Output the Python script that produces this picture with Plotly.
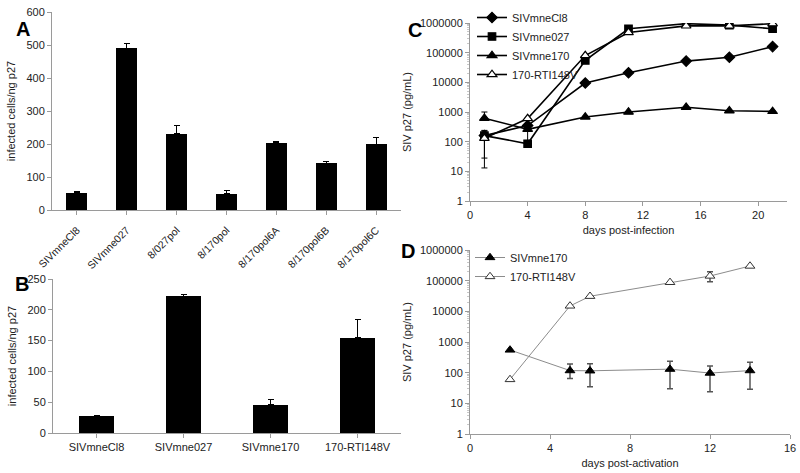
import plotly.graph_objects as go

# ---------------- data ----------------
A_cats = ["SIVmneCl8", "SIVmne027", "8/027pol", "8/170pol", "8/170pol6A", "8/170pol6B", "8/170pol6C"]
A_vals = [52, 490, 231, 50, 204, 141, 199]
A_err = [3, 15, 25, 8, 4, 5, 22]

B_cats = ["SIVmneCl8", "SIVmne027", "SIVmne170", "170-RTI148V"]
B_vals = [27, 222, 46, 155]
B_err = [1, 3, 9, 30]

C_days = [1, 4, 8, 11, 15, 18, 21]
C_Cl8 = [160, 350, 9500, 21000, 52000, 70000, 160000]
C_027 = [160, 85, 55000, 640000, 950000, 850000, 640000]
C_170 = [620, 260, 680, 1000, 1450, 1100, 1050]
C_RTI = [130, 600, 80000, 480000, 800000, 800000, 950000]
C_170_err_up = [380, 150, 0, 0, 0, 0, 0]
C_170_err_dn = [0, 150, 0, 0, 0, 0, 0]
C_RTI_err_up = [100, 0, 0, 0, 0, 0, 0]
C_RTI_err_dn = [117, 0, 0, 0, 0, 0, 0]
C_027_err_up = [80, 0, 0, 0, 0, 0, 0]
C_027_err_dn = [132, 0, 0, 0, 0, 0, 0]

D_days = [2, 5, 6, 10, 12, 14]
D_170 = [550, 117, 115, 130, 97, 117]
D_170_up = [0, 73, 80, 105, 68, 103]
D_170_dn = [0, 52, 80, 100, 73, 88]
D_RTI = [60, 15000, 31000, 88000, 142000, 300000]
D_RTI_up = [0, 0, 0, 0, 54000, 0]
D_RTI_dn = [0, 0, 0, 0, 49000, 0]

FONT = "Liberation Sans, Arial, sans-serif"
AX = "#9a9a9a"
TXT = "#222222"

fig = go.Figure()

# Panel A
fig.add_trace(go.Bar(x=A_cats, y=A_vals, marker=dict(color="black", line=dict(width=0)),
                     width=0.42, showlegend=False,
                     error_y=dict(type="data", symmetric=False, array=A_err, arrayminus=[0]*len(A_err),
                                  color="black", thickness=1, width=3),
                     xaxis="x", yaxis="y"))
# Panel B
fig.add_trace(go.Bar(x=B_cats, y=B_vals, marker=dict(color="black", line=dict(width=0)),
                     width=0.4, showlegend=False,
                     error_y=dict(type="data", symmetric=False, array=B_err, arrayminus=[0]*len(B_err),
                                  color="black", thickness=1, width=3),
                     xaxis="x2", yaxis="y2"))

# Panel C
def cline(name, y, sym, size, fill, up=None, dn=None):
    kw = {}
    if up is not None:
        kw["error_y"] = dict(type="data", symmetric=False, array=up, arrayminus=dn,
                             color="black", thickness=1, width=3)
    return go.Scatter(x=C_days, y=y, name=name, mode="lines+markers",
                      line=dict(color="black", width=1.6),
                      marker=dict(symbol=sym, size=size, color=fill,
                                  line=dict(color="black", width=1.2)),
                      xaxis="x3", yaxis="y3", legend="legend", **kw)

fig.add_trace(cline("SIVmneCl8", C_Cl8, "diamond", 8, "black"))
fig.add_trace(cline("SIVmne027", C_027, "square", 7.5, "black", C_027_err_up, C_027_err_dn))
fig.add_trace(cline("SIVmne170", C_170, "triangle-up", 8.5, "black", C_170_err_up, C_170_err_dn))
fig.add_trace(cline("170-RTI148V", C_RTI, "triangle-up", 8.5, "white", C_RTI_err_up, C_RTI_err_dn))

# Panel D
fig.add_trace(go.Scatter(x=D_days, y=D_170, name="SIVmne170", mode="lines+markers",
                         line=dict(color="#8c8c8c", width=1),
                         marker=dict(symbol="triangle-up", size=8.5, color="black",
                                     line=dict(color="black", width=1)),
                         error_y=dict(type="data", symmetric=False, array=D_170_up, arrayminus=D_170_dn,
                                      color="#555555", thickness=1.5, width=3),
                         xaxis="x4", yaxis="y4", legend="legend2"))
fig.add_trace(go.Scatter(x=D_days, y=D_RTI, name="170-RTI148V", mode="lines+markers",
                         line=dict(color="#8c8c8c", width=1),
                         marker=dict(symbol="triangle-up", size=8.5, color="white",
                                     line=dict(color="#333333", width=1)),
                         error_y=dict(type="data", symmetric=False, array=D_RTI_up, arrayminus=D_RTI_dn,
                                      color="#555555", thickness=1.5, width=3),
                         xaxis="x4", yaxis="y4", legend="legend2"))

W, H = 800, 473
def xd(a, b):
    return [a / W, b / W]
def yd(top, bot):
    return [1 - bot / H, 1 - top / H]

tickfont = dict(family=FONT, size=11, color=TXT)
titlefont = dict(family=FONT, size=11, color=TXT)
common = dict(showgrid=False, zeroline=False, showline=True, linecolor=AX, linewidth=1,
              ticks="outside", tickcolor=AX, ticklen=4, tickfont=tickfont, automargin=False)

LOGV = [1, 10, 100, 1000, 10000, 100000, 1000000]
LOGT = ["1", "10", "100", "1000", "10000", "100000", "1000000"]

fig.update_layout(
    width=W, height=H, autosize=False,
    margin=dict(l=0, r=0, t=0, b=0),
    paper_bgcolor="white", plot_bgcolor="white",
    font=dict(family=FONT, color=TXT),
    bargap=0,
    xaxis=dict(domain=xd(52, 401), anchor="y", tickangle=-45, ticklabelstandoff=5,
               **{**common, "tickfont": dict(family=FONT, size=10.5, color=TXT)}),
    yaxis=dict(domain=yd(12, 210), anchor="x", range=[0, 600], dtick=100,
               title=dict(text="infected cells/ng p27", font=titlefont, standoff=8), **common),
    xaxis2=dict(domain=xd(53, 401), anchor="y2", tickangle=0, **common),
    yaxis2=dict(domain=yd(279, 433), anchor="x2", range=[0, 250], dtick=50,
                title=dict(text="infected cells/ng p27", font=titlefont, standoff=8), **common),
    xaxis3=dict(domain=xd(470, 787), anchor="y3", range=[0, 22], tickvals=[0, 4, 8, 12, 16, 20],
                title=dict(text="days post-infection", font=titlefont, standoff=6), **common),
    yaxis3=dict(domain=yd(23, 201), anchor="x3", type="log", range=[0, 6],
                tickvals=LOGV, ticktext=LOGT,
                minor=dict(ticks="outside", ticklen=2, tickcolor="#c8c8c8", dtick="D1"),
                title=dict(text="SIV p27 (pg/mL)", font=titlefont, standoff=6), **common),
    xaxis4=dict(domain=xd(470, 790), anchor="y4", range=[0, 16], tickvals=[0, 4, 8, 12, 16],
                title=dict(text="days post-activation", font=titlefont, standoff=6), **common),
    yaxis4=dict(domain=yd(250, 434), anchor="x4", type="log", range=[0, 6],
                tickvals=LOGV, ticktext=LOGT,
                minor=dict(ticks="outside", ticklen=2, tickcolor="#c8c8c8", dtick="D1"),
                title=dict(text="SIV p27 (pg/mL)", font=titlefont, standoff=6), **common),
    legend=dict(x=472 / W, y=1 - 3 / H, xanchor="left", yanchor="top",
                bgcolor="rgba(0,0,0,0)", font=dict(family=FONT, size=11, color=TXT),
                itemwidth=30, tracegroupgap=0),
    legend2=dict(x=470 / W, y=1 - 243 / H, xanchor="left", yanchor="top",
                 bgcolor="rgba(0,0,0,0)", font=dict(family=FONT, size=11, color=TXT),
                 itemwidth=30, tracegroupgap=0),
    annotations=[
        dict(text="<b>A</b>", x=14 / W, y=1 - 16 / H, xref="paper", yref="paper",
             showarrow=False, font=dict(family=FONT, size=20, color="black")),
        dict(text="<b>B</b>", x=13 / W, y=1 - 284 / H, xref="paper", yref="paper",
             showarrow=False, font=dict(family=FONT, size=20, color="black")),
        dict(text="<b>C</b>", x=415 / W, y=1 - 17 / H, xref="paper", yref="paper",
             showarrow=False, font=dict(family=FONT, size=20, color="black")),
        dict(text="<b>D</b>", x=408 / W, y=1 - 251 / H, xref="paper", yref="paper",
             showarrow=False, font=dict(family=FONT, size=20, color="black")),
    ],
)

fig.write_html("out.html", config={"displayModeBar": False},
               post_script="document.body.style.margin='0';document.body.style.padding='0';")
